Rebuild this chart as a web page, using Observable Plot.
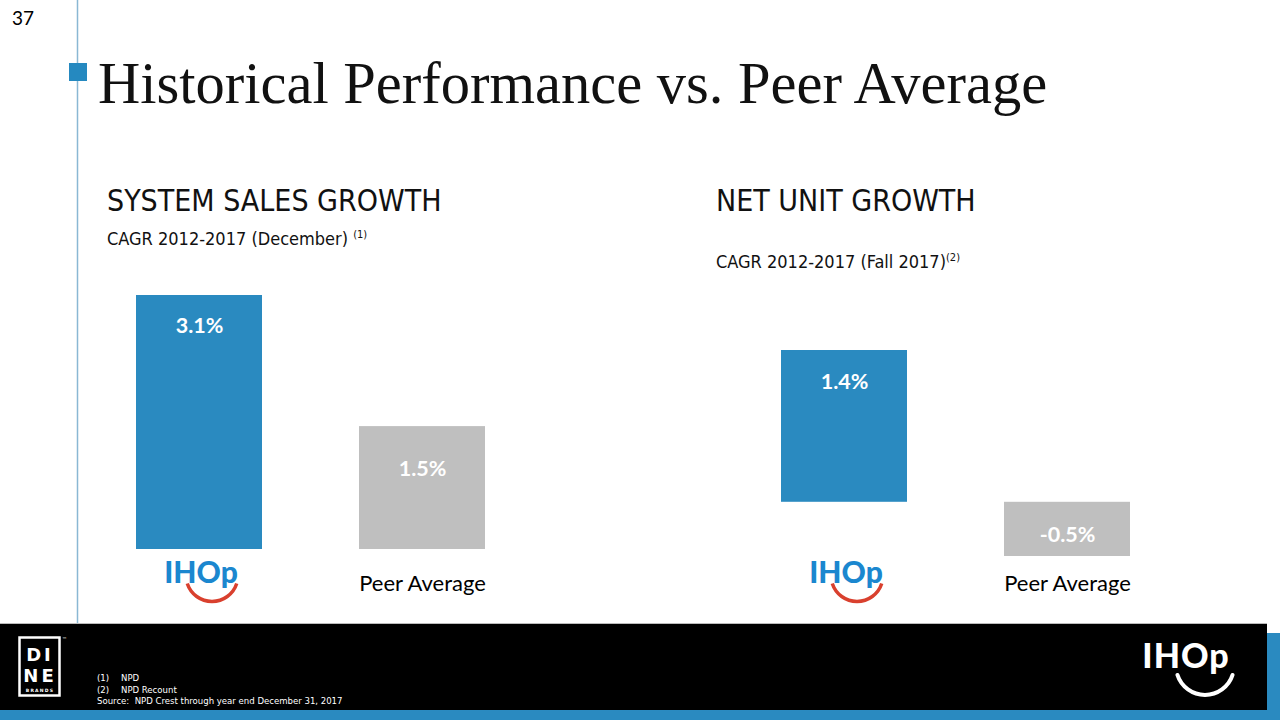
<!DOCTYPE html>
<html><head><meta charset="utf-8">
<script src="https://cdn.jsdelivr.net/npm/d3@7"></script>
<script src="https://cdn.jsdelivr.net/npm/@observablehq/plot@0.6"></script>
<style>
body{margin:0;background:#fff;}
#slide{position:relative;width:1280px;height:720px;overflow:hidden;background:#fff;}
#slide > svg{position:absolute;}
</style></head><body><div id="slide"></div>
<script>
// ---- data ----
const categories = ["IHOP", "Peer Average"];
const systemSalesGrowth = [3.1, 1.5];
const netUnitGrowth = [1.4, -0.5];
const slideTitle = "Historical Performance vs. Peer Average";
const pageNumber = "37";
const panelTitles = ["SYSTEM SALES GROWTH", "NET UNIT GROWTH"];
const panelSubtitles = ["CAGR 2012-2017 (December) ", "CAGR 2012-2017 (Fall 2017)"];
const panelNoteMarks = ["(1)", "(2)"];
const footnoteMarks = ["(1)", "(2)"];
const footnoteTexts = ["NPD", "NPD Recount"];
const sourceNote = "Source:  NPD Crest through year end December 31, 2017";

const BLUE = "#2a8ac0";
const GREY = "#bfbfbf";
const SANS = "'DejaVu Sans Condensed', 'DejaVu Sans', sans-serif";
const slide = document.getElementById("slide");

// ---- background slide decoration ----
const bg = d3.create("svg").attr("width", 1280).attr("height", 720)
  .style("left", "0px").style("top", "0px");
bg.append("line").attr("x1", 77.5).attr("x2", 77.5).attr("y1", 0).attr("y2", 624)
  .attr("stroke", "#8ab8d4").attr("stroke-width", 1.5);
bg.append("rect").attr("x", 69).attr("y", 63).attr("width", 18).attr("height", 18).attr("fill", "#2589c0");
bg.append("text").attr("x", 12).attr("y", 25).attr("font-family", "Lato, sans-serif")
  .attr("font-size", 19).text(pageNumber);
bg.append("text").attr("x", 98).attr("y", 103).attr("font-family", "'Liberation Serif', serif")
  .attr("font-size", 58.5).attr("fill", "#111").text(slideTitle);

const panelX = [107, 716];
const subBase = [245, 268];
panelTitles.forEach((t, i) => {
  bg.append("text").attr("x", panelX[i]).attr("y", 211).attr("font-family", SANS)
    .style("font-stretch", "condensed").attr("font-size", 30).attr("fill", "#111").text(t);
  const st = bg.append("text").attr("x", panelX[i]).attr("y", subBase[i]).attr("font-family", SANS)
    .style("font-stretch", "condensed").attr("font-size", 18).attr("fill", "#111");
  st.append("tspan").text(panelSubtitles[i]);
  st.append("tspan").attr("font-size", 11).attr("dy", -7).text(panelNoteMarks[i]);
});

// footer
bg.append("rect").attr("x", 0).attr("y", 624).attr("width", 1267).attr("height", 86).attr("fill", "#000");
bg.append("line").attr("x1", 0).attr("x2", 1267).attr("y1", 623.5).attr("y2", 623.5).attr("stroke", "#bbb");
bg.append("rect").attr("x", 0).attr("y", 710).attr("width", 1280).attr("height", 10).attr("fill", BLUE);
bg.append("rect").attr("x", 1267).attr("y", 633).attr("width", 13).attr("height", 87).attr("fill", BLUE);
// DINE brands logo
bg.append("rect").attr("x", 19.5).attr("y", 637.5).attr("width", 40).attr("height", 58)
  .attr("fill", "none").attr("stroke", "#fff").attr("stroke-width", 2.5);
[["DI", 661], ["NE", 682]].forEach(([t, y]) => bg.append("text").attr("x", 40).attr("y", y)
  .attr("text-anchor", "middle").attr("font-family", "'DejaVu Sans', sans-serif").attr("font-weight", "bold")
  .attr("font-size", 18).attr("letter-spacing", 3).attr("fill", "#fff").text(t));
bg.append("text").attr("x", 40).attr("y", 692).attr("text-anchor", "middle").attr("font-family", "'DejaVu Sans', sans-serif")
  .attr("font-weight", "bold").attr("font-size", 4.5).attr("letter-spacing", 1.2).attr("fill", "#fff").text("BRANDS");
bg.append("text").attr("x", 62).attr("y", 641).attr("font-family", "'DejaVu Sans', sans-serif")
  .attr("font-size", 5).attr("fill", "#fff").text("™");
// footnotes
footnoteMarks.forEach((m, i) => {
  const y = 681 + i * 12;
  bg.append("text").attr("x", 97).attr("y", y).attr("font-family", SANS).style("font-stretch", "condensed")
    .attr("font-size", 9.5).attr("fill", "#fff").text(m);
  bg.append("text").attr("x", 121).attr("y", y).attr("font-family", SANS).style("font-stretch", "condensed")
    .attr("font-size", 9.5).attr("fill", "#fff").text(footnoteTexts[i]);
});
bg.append("text").attr("x", 97).attr("y", 704).attr("font-family", SANS).style("font-stretch", "condensed")
  .attr("font-size", 9.5).attr("fill", "#fff").style("white-space", "pre").text(sourceNote);
// white IHOP logo
bg.append("text").attr("x", 1186).attr("y", 668).attr("text-anchor", "middle").attr("font-family", "Lato, sans-serif")
  .attr("font-weight", 900).attr("font-size", 34).attr("letter-spacing", 1).attr("fill", "#fff").text("IHOp");
{
  const p = d3.path(); const r = 29;
  p.arc(1205, 666, r, 0.1 * Math.PI, 0.9 * Math.PI);
  bg.append("path").attr("d", p.toString()).attr("fill", "none").attr("stroke", "#fff")
    .attr("stroke-width", 4).attr("stroke-linecap", "round");
}
slide.appendChild(bg.node());

// ---- charts ----
const smileSymbol = {
  draw(ctx, size) {
    const r = Math.sqrt(size / Math.PI);
    ctx.moveTo(r * Math.cos(0.1 * Math.PI), r * Math.sin(0.1 * Math.PI));
    ctx.arc(0, 0, r, 0.1 * Math.PI, 0.9 * Math.PI);
  }
};

function growthChart(values, o) {
  const data = categories.map((c, i) => ({category: c, value: values[i]}));
  const frameBottom = o.top + o.height - o.marginBottom;
  const ihop = data.filter(d => d.category === "IHOP");
  const peer = data.filter(d => d.category === "Peer Average");
  const svg = Plot.plot({
    width: o.width, height: o.height,
    marginTop: o.marginTop, marginBottom: o.marginBottom,
    marginLeft: o.marginLeft, marginRight: o.marginRight,
    style: {background: "transparent", fontFamily: "Lato, sans-serif", overflow: "visible"},
    x: {domain: categories, paddingInner: 0.433, paddingOuter: 0.1, axis: null},
    y: {domain: o.yDomain, axis: null},
    color: {domain: categories, range: [BLUE, GREY]},
    marks: [
      Plot.barY(data, {x: "category", y: "value", fill: "category"}),
      ...data.map((d, i) => Plot.text([d], {
        x: "category", y: v => Math.max(v.value, 0), text: v => `${v.value.toFixed(1)}%`,
        dy: o.labelDy[i], fill: "white", fontWeight: "bold", fontSize: 21.5
      })),
      Plot.text(peer, {x: "category", frameAnchor: "bottom", text: "category",
        dy: 590 - frameBottom, fontSize: 22, fill: "#000"}),
      Plot.text(ihop, {x: "category", frameAnchor: "bottom", text: d => "IHOp",
        dx: 1.5, dy: 582 - frameBottom, fontSize: 30, fontWeight: 900, fill: "#1b87cf"}),
      Plot.dot(ihop, {x: "category", frameAnchor: "bottom", r: 26, symbol: smileSymbol,
        dx: 12.5, dy: 575 - frameBottom, fill: "none", stroke: "#d9402e", strokeWidth: 3.5})
    ]
  });
  svg.style.left = o.left + "px";
  svg.style.top = o.top + "px";
  slide.appendChild(svg);
}

growthChart(systemSalesGrowth, {
  left: 100, top: 270, width: 420, height: 350,
  marginTop: 25, marginBottom: 71, marginLeft: 12.6, marginRight: 11.6,
  yDomain: [0, 3.1], labelDy: [31, 43]
});
growthChart(netUnitGrowth, {
  left: 740, top: 270, width: 420, height: 350,
  marginTop: 80, marginBottom: 64, marginLeft: 17.6, marginRight: 6.6,
  yDomain: [-0.5, 1.4], labelDy: [32, 32.5]
});
</script></body></html>
